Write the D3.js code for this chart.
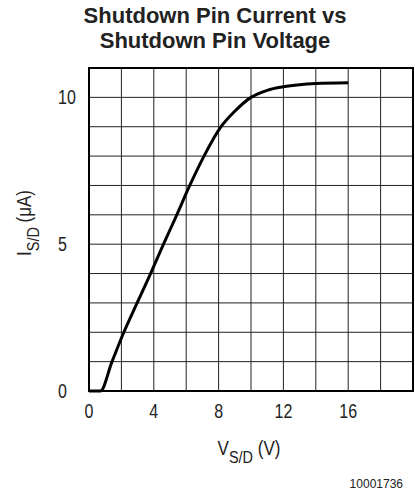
<!DOCTYPE html>
<html>
<head>
<meta charset="utf-8">
<script src="https://cdn.jsdelivr.net/npm/d3@7"></script>
<style>
  body { margin: 0; background: #fff; }
  .lbl { font-family: "Liberation Sans", Arial, sans-serif; fill: #222; }
</style>
</head>
<body>
<div id="chart"></div>
<script>
// curve
var vsd = [0, 0.7, 1.42, 2.15, 2.97, 3.8, 4.6, 5.42, 6.22, 7.1, 8.15, 8.95, 10.0, 11.0, 12.0, 13.0, 14.0, 16.0]
var isd = [0, 0, 1, 2, 3, 4, 5, 6, 7, 8, 9, 9.5, 10.0, 10.24, 10.36, 10.43, 10.47, 10.5]

var xTicks = [0, 4, 8, 12, 16]
var yTicks = [0, 5, 10]

var width = 415, height = 493
var mLeft = 89, mRight = 413, mTop = 68, mBottom = 391

var svg = d3.select("#chart")
  .append("svg")
  .attr("width", width)
  .attr("height", height)

var x = d3.scaleLinear().domain([0, 20]).range([mLeft, mRight])
var y = d3.scaleLinear().domain([0, 11]).range([mBottom, mTop])

// title
svg.selectAll(".title")
  .data(["Shutdown Pin Current vs", "Shutdown Pin Voltage"])
  .enter()
  .append("text")
  .attr("x", 215).attr("y", (d, i) => 23 + i * 25)
  .attr("text-anchor", "middle")
  .style("font-family", "Liberation Sans, Arial, sans-serif")
  .style("font-weight", "bold")
  .style("font-size", "22px")
  .style("fill", "#222")
  .text(d => d)

// grid
var grid = svg.append("g")
grid.selectAll(".vx")
  .data(d3.range(2, 20, 2))
  .enter()
  .append("line")
  .attr("x1", d => x(d)).attr("x2", d => x(d))
  .attr("y1", mTop).attr("y2", mBottom)
  .attr("stroke", "#222").attr("stroke-width", 1)
grid.selectAll(".hy")
  .data(d3.range(1, 11))
  .enter()
  .append("line")
  .attr("x1", mLeft).attr("x2", mRight)
  .attr("y1", d => y(d)).attr("y2", d => y(d))
  .attr("stroke", "#222").attr("stroke-width", 1)

svg.append("rect")
  .attr("x", mLeft).attr("y", mTop)
  .attr("width", mRight - mLeft).attr("height", mBottom - mTop)
  .attr("fill", "none").attr("stroke", "#000").attr("stroke-width", 2)

// tick labels (narrowed to look like the datasheet font)
svg.selectAll(".xt")
  .data(xTicks)
  .enter()
  .append("text")
  .attr("class", "lbl")
  .attr("transform", d => `translate(${x(d)},418) scale(0.8,1)`)
  .attr("text-anchor", "middle")
  .style("font-size", "20px")
  .text(d => d)

svg.selectAll(".yt")
  .data(yTicks)
  .enter()
  .append("text")
  .attr("class", "lbl")
  .attr("transform", d => `translate(58,${y(d) + 7}) scale(0.8,1)`)
  .style("font-size", "20px")
  .text(d => d)

// axis titles
var xl = svg.append("text")
  .attr("class", "lbl")
  .attr("transform", "translate(249,455) scale(0.85,1)")
  .attr("text-anchor", "middle")
  .style("font-size", "20px")
xl.append("tspan").text("V")
xl.append("tspan").attr("dy", 8).style("font-size", "17px").text("S/D")
xl.append("tspan").attr("dy", -8).text(" (V)")

var yl = svg.append("text")
  .attr("class", "lbl")
  .attr("transform", "translate(31,223) rotate(-90) scale(0.85,1)")
  .attr("text-anchor", "middle")
  .style("font-size", "20px")
yl.append("tspan").text("I")
yl.append("tspan").attr("dy", 8).style("font-size", "17px").text("S/D")
yl.append("tspan").attr("dy", -8).text(" (\u03bcA)")

// footnote
svg.append("text")
  .attr("x", 403).attr("y", 488)
  .attr("text-anchor", "end")
  .style("font-family", "Liberation Sans, Arial, sans-serif")
  .style("font-size", "12px")
  .style("fill", "#222")
  .text("10001736")

// curve
var line = d3.line()
  .x(d => x(d[0]))
  .y(d => y(d[1]))
  .curve(d3.curveMonotoneX)

svg.append("path")
  .datum(d3.zip(vsd, isd))
  .attr("d", line)
  .attr("fill", "none")
  .attr("stroke", "#000")
  .attr("stroke-width", 3)
</script>
</body>
</html>
